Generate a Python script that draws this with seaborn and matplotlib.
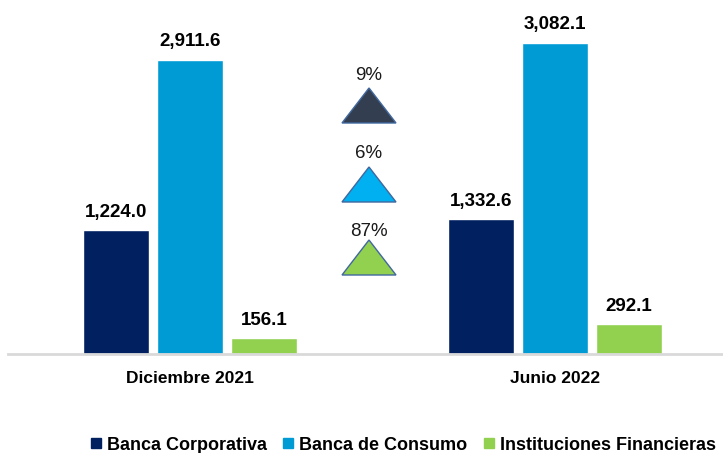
import matplotlib
matplotlib.use("Agg")
import matplotlib.pyplot as plt
import seaborn as sns
import pandas as pd
from matplotlib.patches import Polygon
from matplotlib.lines import Line2D

periods = ["Diciembre 2021", "Junio 2022"]
segments = ["Banca Corporativa", "Banca de Consumo", "Instituciones Financieras"]
corporativa = [1224.0, 1332.6]
consumo = [2911.6, 3082.1]
instituciones = [156.1, 292.1]
growth_labels = ["9%", "6%", "87%"]

colors = ["#002060", "#009bd5", "#92d050"]
tri_colors = ["#333f50", "#00b0f0", "#92d050"]

rows = []
for seg, vals in zip(segments, [corporativa, consumo, instituciones]):
    for p, v in zip(periods, vals):
        rows.append({"period": p, "segment": seg, "value": v})
df = pd.DataFrame(rows)

sns.set_theme(style="white")
plt.rcParams["font.family"] = ["Liberation Sans", "DejaVu Sans"]
plt.rcParams["text.color"] = "black"

W, H = 723, 453
fig = plt.figure(figsize=(W / 100, H / 100), dpi=100)
ax = fig.add_axes([8 / W, (H - 354) / H, 1 - 8 / W, 354 / H])

sns.barplot(data=df, x="period", y="value", hue="segment", order=periods,
            hue_order=segments, palette=colors, width=0.608, gap=0.095,
            saturation=1, ax=ax, legend=False)

ymax = 354 / 0.101
ax.set_ylim(0, ymax)
ax.set_xlim(-182 / 365, 1 + 168 / 365)

for cont in ax.containers:
    ax.bar_label(cont, labels=[f"{v:,.1f}" for v in cont.datavalues],
                 padding=7, fontsize=13.5, fontweight="bold", color="black")

for s in ["top", "right", "left"]:
    ax.spines[s].set_visible(False)
ax.spines["bottom"].set_color("#d9d9d9")
ax.spines["bottom"].set_linewidth(2)
ax.set_yticks([])
ax.set_xlabel("")
ax.set_ylabel("")
ax.tick_params(axis="x", length=0, pad=12)
for lbl in ax.get_xticklabels():
    lbl.set_fontsize(12.5)
    lbl.set_fontweight("bold")
    lbl.set_color("black")

# growth triangles (decorations placed in pixel-derived data coords)
def px2d(xp, yp):
    return ((xp - 190) / 365, (354 - yp) / 0.101)

tri_apex_y = [88, 167, 240]
text_y = [75, 154, 231]
for i, (ay, ty, lab) in enumerate(zip(tri_apex_y, text_y, growth_labels)):
    pts = [px2d(369, ay), px2d(342, ay + 35), px2d(396, ay + 35)]
    ax.add_patch(Polygon(pts, closed=True, facecolor=tri_colors[i],
                         edgecolor="#41689e", linewidth=1, zorder=3))
    tx, tyd = px2d(369, ty)
    ax.text(tx, tyd, lab, ha="center", va="center", fontsize=13.5, color="#1a1a1a")

handles = [Line2D([0], [0], marker="s", linestyle="none", markersize=6.5,
                  markerfacecolor=c, markeredgecolor=c) for c in colors]
fig.legend(handles, segments, loc="center", bbox_to_anchor=(403 / W, 8 / H),
           ncol=3, frameon=False, handlelength=0.6, handletextpad=0.3,
           columnspacing=0.9,
           prop={"weight": "bold", "size": 13}, labelcolor="black")

fig.savefig("out.png", dpi=100)
